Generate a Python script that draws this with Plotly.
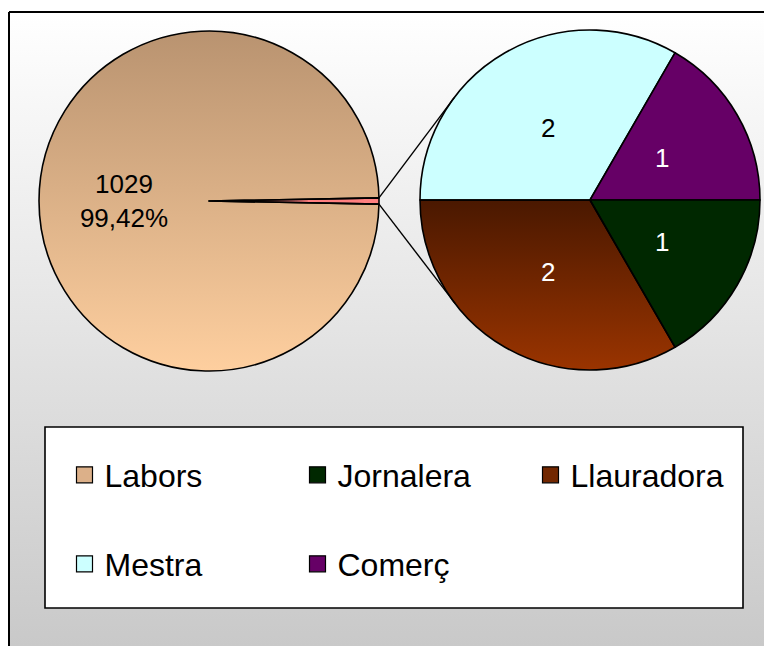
import math
import plotly.graph_objects as go

W, H = 772, 646
OFF = 8  # page body margin: figure is drawn 8px from the window's top-left corner

# ---------------- data ----------------
sub_labels = ["Mestra", "Comerç", "Jornalera", "Llauradora"]
sub_values = [2, 1, 1, 2]
main_labels = ["Altres", "Labors"]
main_values = [sum(sub_values), 1029]
legend_row1 = ["Labors", "Jornalera", "Llauradora"]
legend_row2 = ["Mestra", "Comerç"]

# ---------------- style ----------------
FONT = "Arial, Liberation Sans, sans-serif"
colors = {
    "Labors": "#dcb089",
    "Altres": "#ff8080",
    "Mestra": "#ccffff",
    "Comerç": "#660066",
    "Jornalera": "#002800",
    "Llauradora": "#722700",
}
grad = {
    "Labors": ("#b99370", "#fecf9f"),
    "Llauradora": ("#4a1800", "#9a3400"),
}
text_colors = {"Mestra": "black", "Comerç": "white", "Jornalera": "white", "Llauradora": "white"}

R = 170
LC = (209, 201)   # left pie centre (screen px)
RC = (590, 200)   # right pie centre (screen px)


def domain(c):
    return dict(x=[(c[0] - R - OFF) / W, (c[0] + R - OFF) / W],
                y=[1 - (c[1] + R - OFF) / H, 1 - (c[1] - R - OFF) / H])


def pt(c, ang_deg, r=R):
    """clockwise-from-top angle -> screen coords"""
    a = math.radians(ang_deg)
    return c[0] + r * math.sin(a), c[1] - r * math.cos(a)


total = sum(main_values)
other_span = 360 * main_values[0] / total
left_rot = 90 - other_span / 2
right_rot = 270

fig = go.Figure()

# background of chart area (gradient) with border
fig.add_trace(go.Scatter(
    x=[9, 800, 800, 9, 9], y=[12, 12, 700, 700, 12], mode="lines",
    line=dict(color="black", width=2), fill="toself",
    fillgradient=dict(type="vertical", colorscale=[[0, "#ffffff"], [1, "#c9c9c9"]],
                      start=12, stop=646),
    hoverinfo="skip", showlegend=False))

# gradient fill under Labors slice (full circle of left pie)
circ = [pt(LC, a) for a in range(0, 361, 2)]
fig.add_trace(go.Scatter(
    x=[p[0] for p in circ], y=[p[1] for p in circ], mode="none", fill="toself",
    fillgradient=dict(type="vertical",
                      colorscale=[[0, grad["Labors"][0]], [1, grad["Labors"][1]]],
                      start=LC[1] - R, stop=LC[1] + R),
    hoverinfo="skip", showlegend=False))

# slice angles of the right pie
cum = 0
angles = {}
for lab, v in zip(sub_labels, sub_values):
    a0 = right_rot + 360 * cum / sum(sub_values)
    cum += v
    a1 = right_rot + 360 * cum / sum(sub_values)
    angles[lab] = (a0, a1)

# gradient fill under Llauradora slice
a0, a1 = angles["Llauradora"]
sec = [RC] + [pt(RC, a0 + (a1 - a0) * i / 60) for i in range(61)] + [RC]
ys = [p[1] for p in sec]
fig.add_trace(go.Scatter(
    x=[p[0] for p in sec], y=ys, mode="none", fill="toself",
    fillgradient=dict(type="vertical",
                      colorscale=[[0, grad["Llauradora"][0]], [1, grad["Llauradora"][1]]],
                      start=min(ys), stop=max(ys)),
    hoverinfo="skip", showlegend=False))

LINE = dict(color="black", width=1.6)

# left pie
fig.add_trace(go.Pie(
    labels=main_labels, values=main_values, sort=False, direction="clockwise",
    rotation=left_rot, domain=domain(LC), showlegend=False,
    marker=dict(colors=[colors["Altres"], "rgba(0,0,0,0)"], line=LINE),
    texttemplate=["", "%{value}<br>%{percent:.2%}"], textposition="inside",
    insidetextorientation="horizontal",
    insidetextfont=dict(family=FONT, size=26, color="black"),
    hoverinfo="label+value+percent"))

# right pie
fig.add_trace(go.Pie(
    labels=sub_labels, values=sub_values, sort=False, direction="clockwise",
    rotation=right_rot, domain=domain(RC), showlegend=False,
    marker=dict(colors=[colors[l] if l != "Llauradora" else "rgba(0,0,0,0)" for l in sub_labels],
                line=LINE),
    textinfo="none", hoverinfo="label+value+percent"))

# value labels of the right pie, half-way along each slice bisector
annotations = []
for lab, v in zip(sub_labels, sub_values):
    a0, a1 = angles[lab]
    x, y = pt(RC, (a0 + a1) / 2, r=0.49 * R)
    annotations.append(dict(x=x, y=y, xref="x", yref="y", text=str(v), showarrow=False,
                            font=dict(family=FONT, size=26, color=text_colors[lab]),
                            xanchor="center", yanchor="middle"))


# connector lines: ends of "Altres" slice to tangent points of the right pie
def tangents(p, c):
    dx, dy = p[0] - c[0], p[1] - c[1]
    d = math.hypot(dx, dy)
    base = math.atan2(dy, dx)
    off = math.acos(R / d)
    return [(c[0] + R * math.cos(base + s * off), c[1] + R * math.sin(base + s * off))
            for s in (1, -1)]


p_up = pt(LC, left_rot)
p_dn = pt(LC, left_rot + other_span)
t_up = min(tangents(p_up, RC), key=lambda q: q[1])
t_dn = max(tangents(p_dn, RC), key=lambda q: q[1])
shapes = [
    dict(type="line", xref="x", yref="y", x0=p_up[0], y0=p_up[1], x1=t_up[0], y1=t_up[1],
         line=dict(color="black", width=1.4), layer="above"),
    dict(type="line", xref="x", yref="y", x0=p_dn[0], y0=p_dn[1], x1=t_dn[0], y1=t_dn[1],
         line=dict(color="black", width=1.4), layer="above"),
    # legend frame
    dict(type="rect", xref="x", yref="y", x0=45, y0=427, x1=743, y1=608,
         fillcolor="white", line=dict(color="black", width=1.6), layer="above"),
]

# legend entries
for name in legend_row1:
    fig.add_trace(go.Scatter(x=[None], y=[None], mode="markers", name=name, legend="legend",
                             marker=dict(symbol="square", size=17, color=colors[name],
                                         line=dict(color="black", width=1.2))))
for name in legend_row2:
    fig.add_trace(go.Scatter(x=[None], y=[None], mode="markers", name=name, legend="legend2",
                             marker=dict(symbol="square", size=17, color=colors[name],
                                         line=dict(color="black", width=1.2))))

leg = dict(orientation="h", xanchor="left", yanchor="middle", bgcolor="rgba(0,0,0,0)",
           borderwidth=0, font=dict(family=FONT, size=32, color="black"),
           entrywidth=188, entrywidthmode="pixels", traceorder="normal")

fig.update_layout(
    width=W, height=H, margin=dict(l=0, r=0, t=0, b=0),
    paper_bgcolor="white", plot_bgcolor="rgba(0,0,0,0)",
    separators=",.",
    xaxis=dict(range=[OFF, W + OFF], visible=False, fixedrange=True),
    yaxis=dict(range=[H + OFF, OFF], visible=False, fixedrange=True),
    shapes=shapes, annotations=annotations,
    legend=dict(leg, x=(84.5 - 20 - OFF) / W, y=1 - (475 - OFF) / H),
    legend2=dict(leg, x=(84.5 - 20 - OFF) / W, y=1 - (564 - OFF) / H),
    showlegend=True,
)

fig.write_html("out.html")
